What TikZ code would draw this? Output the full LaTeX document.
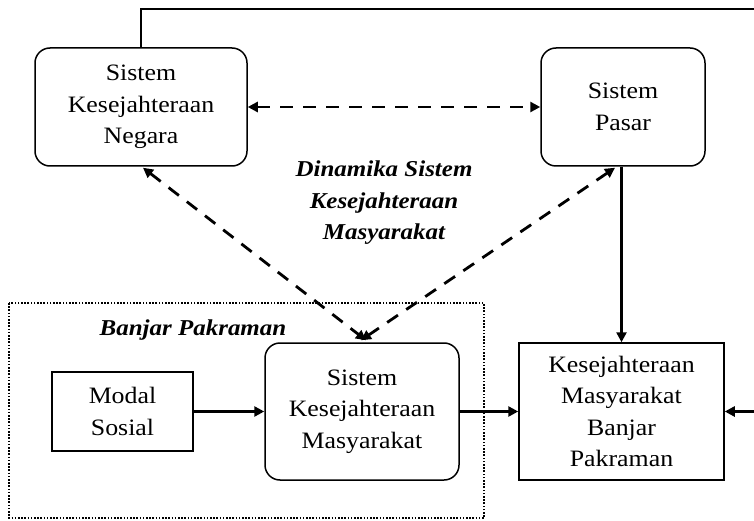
\documentclass[tikz,border=0pt]{standalone}
\usepackage{fontspec}
\setmainfont{Liberation Serif}[FakeStretch=1.1]
\usetikzlibrary{arrows.meta,calc}
\begin{document}
\begin{tikzpicture}[x=1pt,y=-1pt,
  txt/.style={font=\fontsize{23.5}{31.5}\selectfont,align=center,inner sep=0pt},
  rbox/.style={txt,draw,line width=1.5pt,rounded corners=15pt},
  sbox/.style={txt,draw,line width=1.5pt},
  conn/.style={line width=2.8pt},
  tip/.style={-{Triangle[length=10pt,width=10pt]}},
  dtip/.style={{Triangle[length=10pt,width=10pt]}-{Triangle[length=10pt,width=10pt]}},
  dsh/.style={dash pattern=on 13pt off 10pt},
  ttl/.style={inner sep=0pt,align=center,font=\fontsize{22.7}{31.5}\selectfont\bfseries\itshape}
]
\useasboundingbox (0,0) rectangle (754,521);
\node[rbox,minimum width=212pt,minimum height=118pt] (skn) at (141,107) {Sistem\\Kesejahteraan\\Negara};
\node[rbox,minimum width=164pt,minimum height=118pt] (pasar) at (623,107) {Sistem\\Pasar};
\node[sbox,minimum width=141pt,minimum height=79pt] (modal) at (122.5,411.5) {Modal\\Sosial};
\node[rbox,minimum width=194pt,minimum height=137pt] (skm) at (362,411.5) {Sistem\\Kesejahteraan\\Masyarakat};
\node[sbox,minimum width=205pt,minimum height=137pt] (kmbp) at (621.5,411.5) {Kesejahteraan\\Masyarakat\\Banjar\\Pakraman};
\node[ttl] (dyn) at (384,203) {Dinamika Sistem\\Kesejahteraan\\Masyarakat};
\node[ttl] (bp) at (193,330) {Banjar Pakraman};
\draw[line width=2.8pt,dash pattern=on 1.6pt off 1.6pt] (9,303) rectangle (484,518);
% connectors
\coordinate (tl) at (141,9);
\coordinate (tr) at (754,9);
\draw[conn] (skn.north) -- (tl) -- (tr);
\coordinate (rr) at (754,411.5);
\draw[conn,tip] (rr) -- (kmbp.east);
\draw[conn,dsh,dtip] (skn.east) -- (pasar.west);
\draw[conn,dsh,dtip] ($(skn.south)+(2,1)$) -- ($(skm.north)+(4,-2)$);
\draw[conn,dsh,dtip] ($(pasar.south)+(-8,1)$) -- ($(skm.north)+(-1,-2)$);
\draw[conn,tip] (pasar.south -| kmbp.north) -- (kmbp.north);
\draw[conn,tip] (modal.east) -- (skm.west);
\draw[conn,tip] (skm.east) -- (kmbp.west);
\end{tikzpicture}
\end{document}
